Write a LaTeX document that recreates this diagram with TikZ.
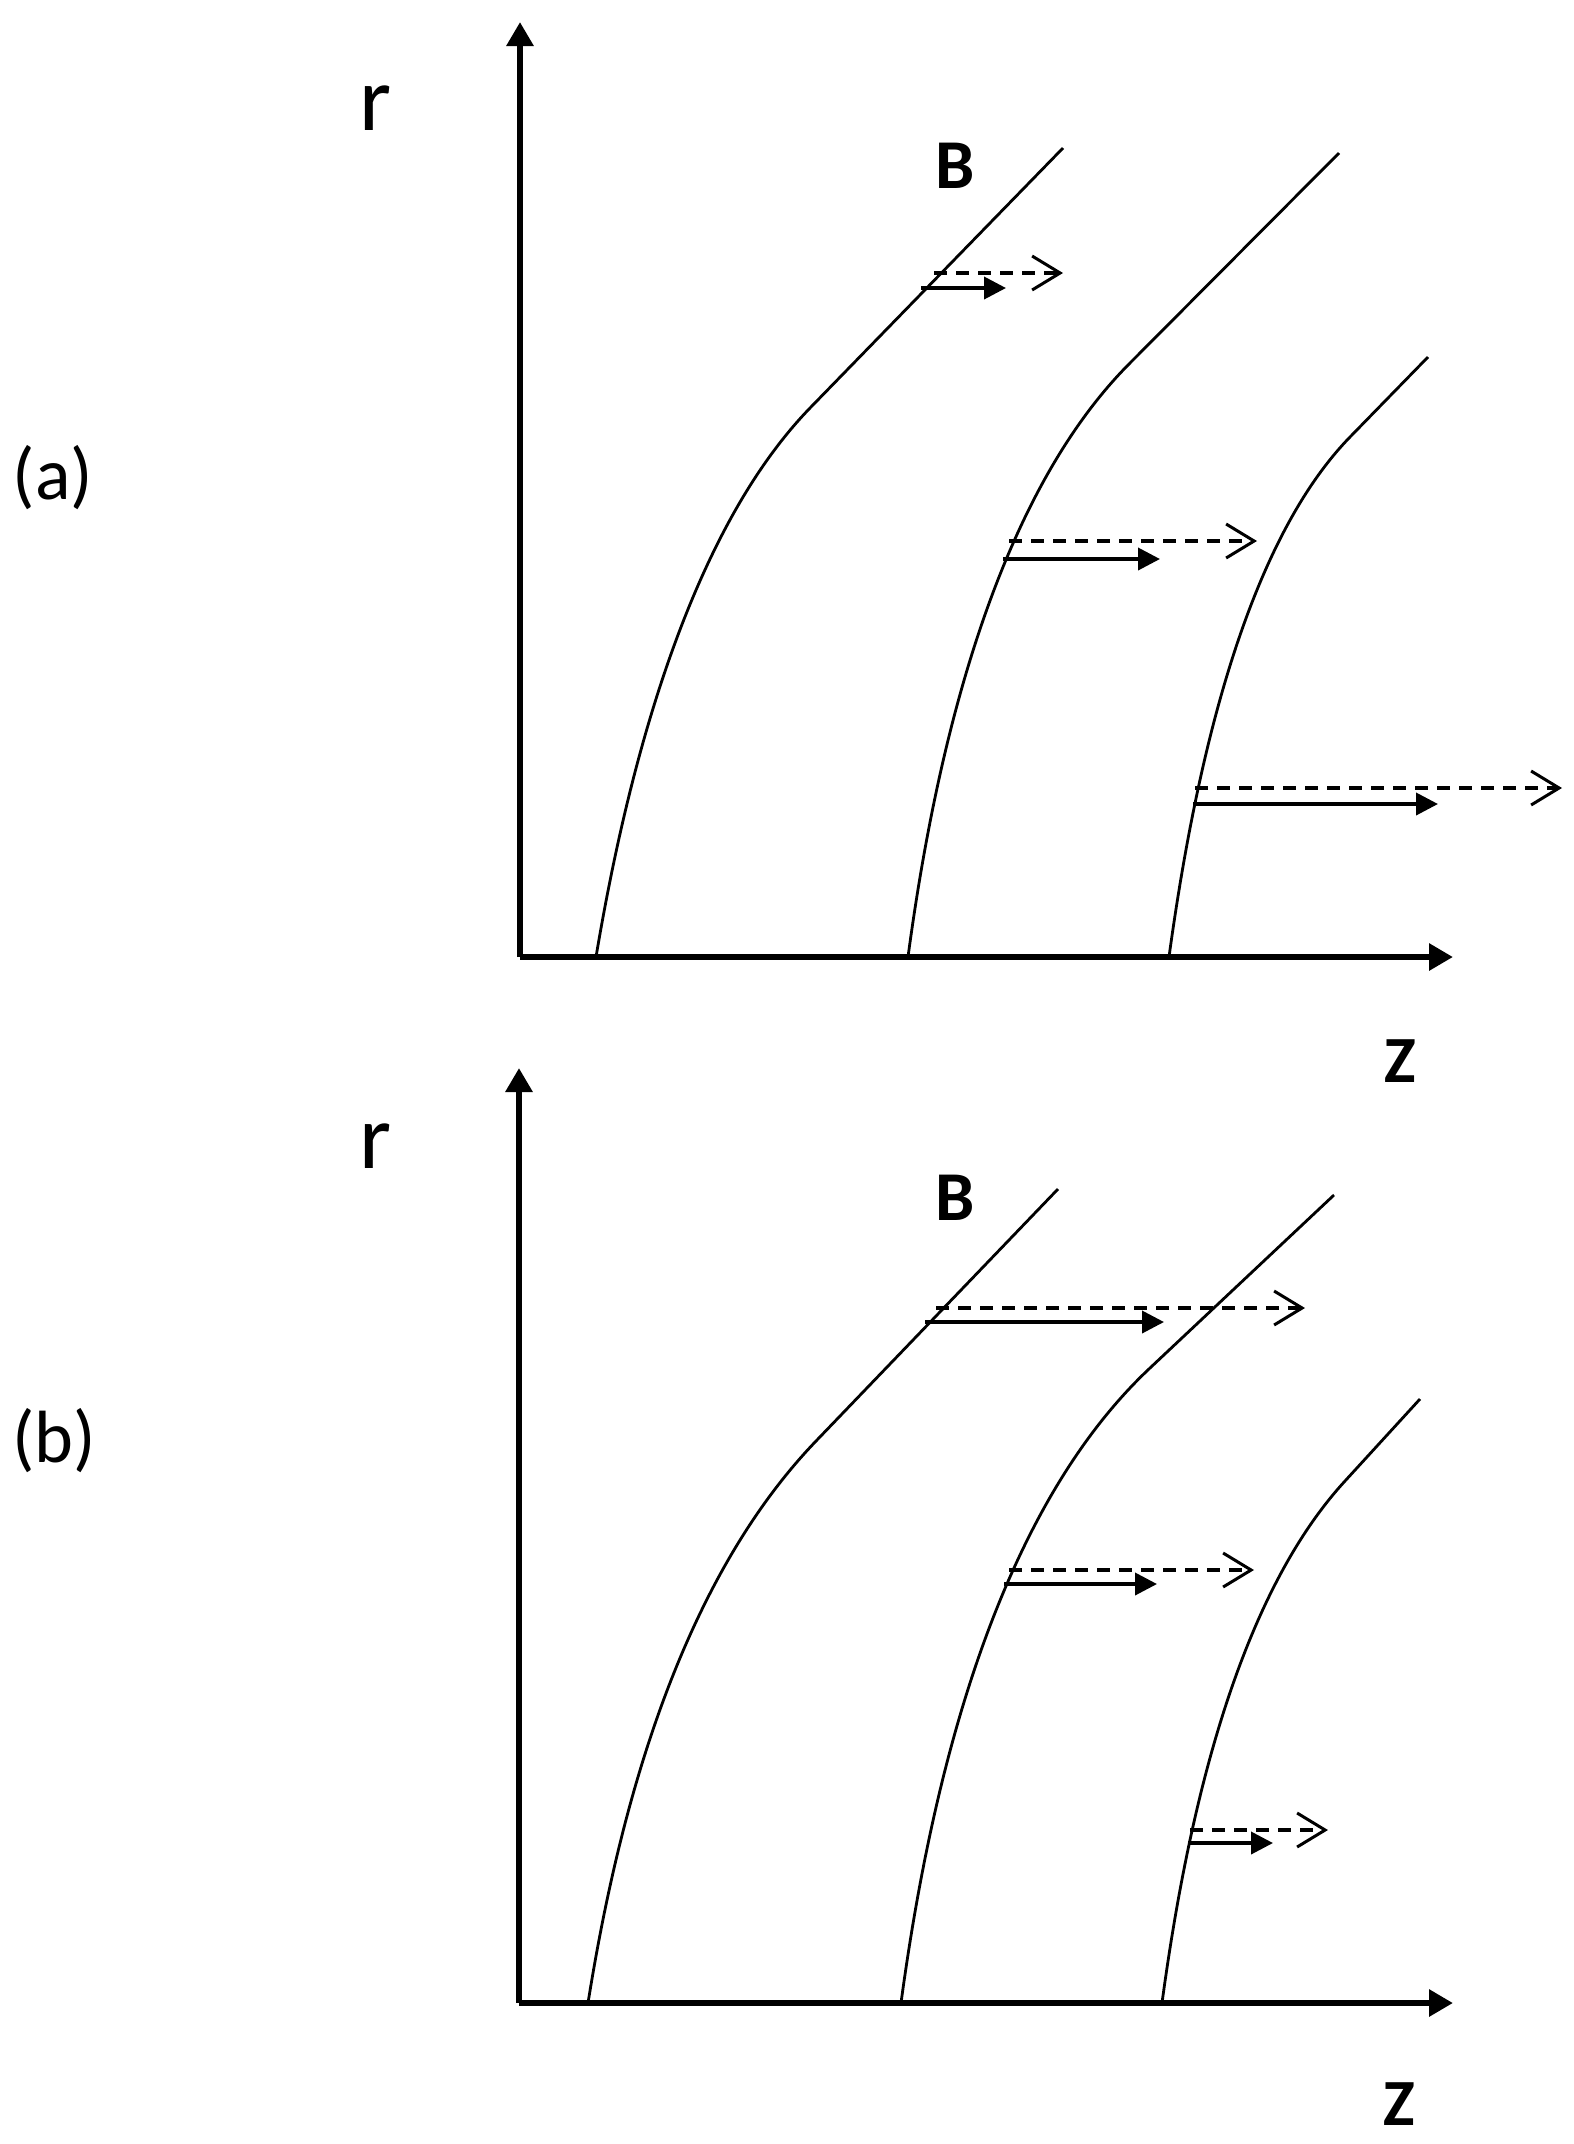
\documentclass[tikz,border=0pt]{standalone}
\usepackage{fontspec}
\setmainfont{Carlito}
\usepackage{tikz}
\usetikzlibrary{arrows, arrows.meta, positioning}
\definecolor{color_line}{RGB}{0,0,0}
\definecolor{color_back}{RGB}{255,255,255}

\begin{document}
\begin{tikzpicture}[x=0.5pt, y=-0.5pt,
  axis/.style={color_line, line width=3pt, -{Triangle[length=12pt,width=13pt]}},
  fieldline/.style={color_line, line width=1.4pt},
  solidvec/.style={color_line, line width=1.9pt, -{Triangle[length=11pt,width=11pt]}},
  dashvec/.style={color_line, line width=1.6pt, dash pattern=on 6.5pt off 4.5pt,
    -{Straight Barb[length=14pt,width=17pt,line width=1.5pt]}},
  axislabel/.style={inner sep=0pt, font=\fontsize{46}{48}\selectfont},
  bolllabel/.style={inner sep=0pt, font=\fontsize{35}{37}\selectfont\bfseries},
  panellabel/.style={inner sep=0pt, font=\fontsize{37}{39}\selectfont}]

  \fill[color_back] (0,0) rectangle (1574,2144);
  \useasboundingbox (0,0) rectangle (1574,2144);

  %
  % PANEL (a)
  \node[panellabel] (a-lab) at (53,478) {(a)};
  \node[axislabel] (a-rlab) at (376,108) {r};
  \node[bolllabel] (a-blab) at (955,166) {B};
  \node[bolllabel, font=\fontsize{33}{35}\selectfont\bfseries] (a-zlab) at (1400,1061) {Z};

  \coordinate (a-o) at (520,957);
  \coordinate (a-r) at (520,22);
  \coordinate (a-z) at (1453,957);
  \draw[axis] (a-o) -- (a-r);
  \draw[axis] (a-o) -- (a-z);

  % field lines
  \draw[fieldline] (596,957) .. controls (626,778) and (686,536) .. (810,408) -- (1063,148);
  \draw[fieldline] (908,957) .. controls (934,763) and (991,502) .. (1130,363) -- (1339,153);
  \draw[fieldline] (1169,957) .. controls (1193,782) and (1241,549) .. (1350,437) -- (1428,357);

  % vectors
  \coordinate (a-s1) at (921,288);  \coordinate (a-e1) at (1006,288);
  \coordinate (a-d1) at (934,273);  \coordinate (a-f1) at (1063,273);
  \coordinate (a-s2) at (1003,559); \coordinate (a-e2) at (1160,559);
  \coordinate (a-d2) at (1009,541); \coordinate (a-f2) at (1257,541);
  \coordinate (a-s3) at (1193,804); \coordinate (a-e3) at (1438,804);
  \coordinate (a-d3) at (1195,788); \coordinate (a-f3) at (1562,788);
  \draw[solidvec] (a-s1) -- (a-e1);
  \draw[dashvec] (a-d1) -- (a-f1);
  \draw[solidvec] (a-s2) -- (a-e2);
  \draw[dashvec] (a-d2) -- (a-f2);
  \draw[solidvec] (a-s3) -- (a-e3);
  \draw[dashvec] (a-d3) -- (a-f3);

  %
  % PANEL (b)
  \node[panellabel] (b-lab) at (54,1441) {(b)};
  \node[axislabel] (b-rlab) at (376,1146) {r};
  \node[bolllabel] (b-blab) at (955,1198) {B};
  \node[bolllabel, font=\fontsize{33}{35}\selectfont\bfseries] (b-zlab) at (1399,2104) {Z};

  \coordinate (b-o) at (519,2003);
  \coordinate (b-r) at (519,1068);
  \coordinate (b-z) at (1453,2003);
  \draw[axis] (b-o) -- (b-r);
  \draw[axis] (b-o) -- (b-z);

  % field lines
  \draw[fieldline] (588,2003) .. controls (616,1828) and (674,1588) .. (817,1440) -- (1058,1189);
  \draw[fieldline] (901,2003) .. controls (929,1796) and (991,1517) .. (1150,1368) -- (1334,1195);
  \draw[fieldline] (1162,2003) .. controls (1185,1833) and (1232,1604) .. (1345,1481) -- (1420,1399);

  % vectors
  \coordinate (b-s1) at (925,1322);  \coordinate (b-e1) at (1164,1322);
  \coordinate (b-d1) at (936,1308);  \coordinate (b-f1) at (1305,1308);
  \coordinate (b-s2) at (1004,1584); \coordinate (b-e2) at (1157,1584);
  \coordinate (b-d2) at (1009,1570); \coordinate (b-f2) at (1254,1570);
  \coordinate (b-s3) at (1188,1843); \coordinate (b-e3) at (1273,1843);
  \coordinate (b-d3) at (1190,1830); \coordinate (b-f3) at (1328,1830);
  \draw[solidvec] (b-s1) -- (b-e1);
  \draw[dashvec] (b-d1) -- (b-f1);
  \draw[solidvec] (b-s2) -- (b-e2);
  \draw[dashvec] (b-d2) -- (b-f2);
  \draw[solidvec] (b-s3) -- (b-e3);
  \draw[dashvec] (b-d3) -- (b-f3);

\end{tikzpicture}
\end{document}
